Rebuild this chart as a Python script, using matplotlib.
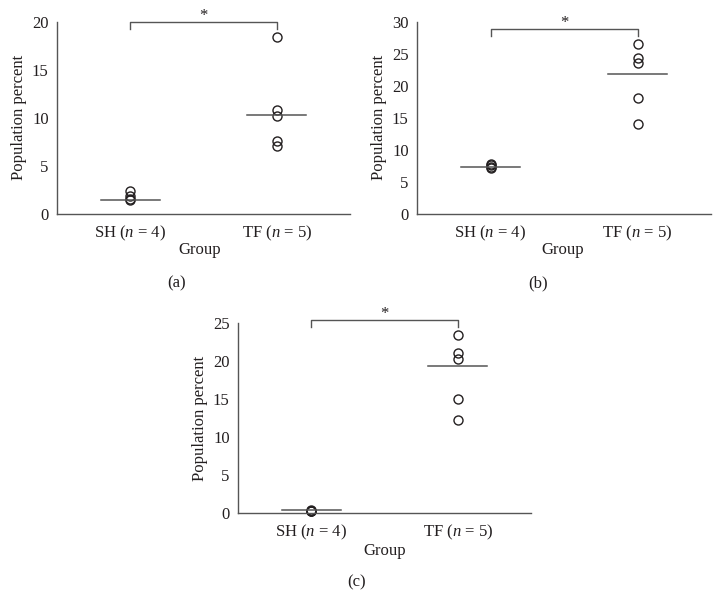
import matplotlib
matplotlib.use("Agg")
import matplotlib.pyplot as plt

plt.rcParams["font.family"] = ["Liberation Serif", "DejaVu Serif"]
plt.rcParams["mathtext.fontset"] = "custom"
plt.rcParams["mathtext.rm"] = "Liberation Serif"
plt.rcParams["mathtext.it"] = "Liberation Serif:italic"

groups = ["SH ($n$ = 4)", "TF ($n$ = 5)"]

sh_a = [2.4, 1.9, 1.6, 1.5]
tf_a = [18.4, 10.8, 10.2, 7.6, 7.1]
mid_a = [1.5, 10.3]

sh_b = [7.8, 7.6, 7.4, 7.2]
tf_b = [26.5, 24.4, 23.6, 18.1, 14.0]
mid_b = [7.3, 21.8]

sh_c = [0.4, 0.3, 0.3, 0.2]
tf_c = [23.4, 21.1, 20.3, 15.0, 12.3]
mid_c = [0.35, 19.3]

ylims = [20, 30, 25]
yticks = [range(0, 21, 5), range(0, 31, 5), range(0, 26, 5)]
bracket_y = [(20.0, 19.2), (28.8, 27.7), (25.4, 24.5)]
letters = ["(a)", "(b)", "(c)"]

W, H = 722, 614
ink = "#231f20"
line_col = "#555555"
fs = 12

fig = plt.figure(figsize=(W / 100, H / 100), dpi=100)

# axes boxes in pixels: left, bottom(y of 0), right, top
boxes = [(57, 214, 350, 21.7), (417, 214, 711, 21.7), (238, 513, 531, 323)]
ylab_x = [19, 379, 200]
group_xy = [(200, 250), (563, 250), (385, 551)]
letter_xy = [(177, 283), (538, 283), (357, 582)]

data = [(sh_a, tf_a, mid_a), (sh_b, tf_b, mid_b), (sh_c, tf_c, mid_c)]

for i, (sh, tf, mid) in enumerate(data):
    l, b, r, t = boxes[i]
    ax = fig.add_axes([l / W, 1 - b / H, (r - l) / W, (b - t) / H])
    ax.plot([0] * len(sh), sh, "o", mfc="none", mec=ink, ms=6.5, mew=1.0, clip_on=False)
    ax.plot([1] * len(tf), tf, "o", mfc="none", mec=ink, ms=6.5, mew=1.0, clip_on=False)
    for x, m in enumerate(mid):
        ax.plot([x - 0.2, x + 0.2], [m, m], color=line_col, lw=1.1)

    ax.set_xlim(-0.5, 1.5)
    ax.set_ylim(0, ylims[i])
    ax.set_xticks([0, 1])
    ax.set_xticklabels(groups)
    ax.set_yticks(list(yticks[i]))
    ax.tick_params(length=0, labelsize=fs, colors=ink)
    ax.tick_params(axis="x", pad=7)
    ax.tick_params(axis="y", pad=6)
    for s in ["top", "right"]:
        ax.spines[s].set_visible(False)
    for s in ["left", "bottom"]:
        ax.spines[s].set_color(line_col)
        ax.spines[s].set_linewidth(1.0)

    # significance bracket
    top, leg = bracket_y[i]
    ax.plot([0, 0, 1, 1], [leg, top, top, leg], color=line_col, lw=1.0, clip_on=False)
    ax.annotate("*", xy=(0.5, top), xytext=(0, -1.5), textcoords="offset points",
                ha="center", va="bottom", fontsize=fs, color=ink, annotation_clip=False)

    fig.text(ylab_x[i] / W, 1 - ((b + t) / 2) / H, "Population percent", rotation=90,
             ha="center", va="center", fontsize=fs, color=ink)
    gx, gy = group_xy[i]
    fig.text(gx / W, 1 - gy / H, "Group", ha="center", va="center", fontsize=fs, color=ink)
    lx, ly = letter_xy[i]
    fig.text(lx / W, 1 - ly / H, letters[i], ha="center", va="center", fontsize=fs, color=ink)

fig.savefig("out.png", dpi=100)
